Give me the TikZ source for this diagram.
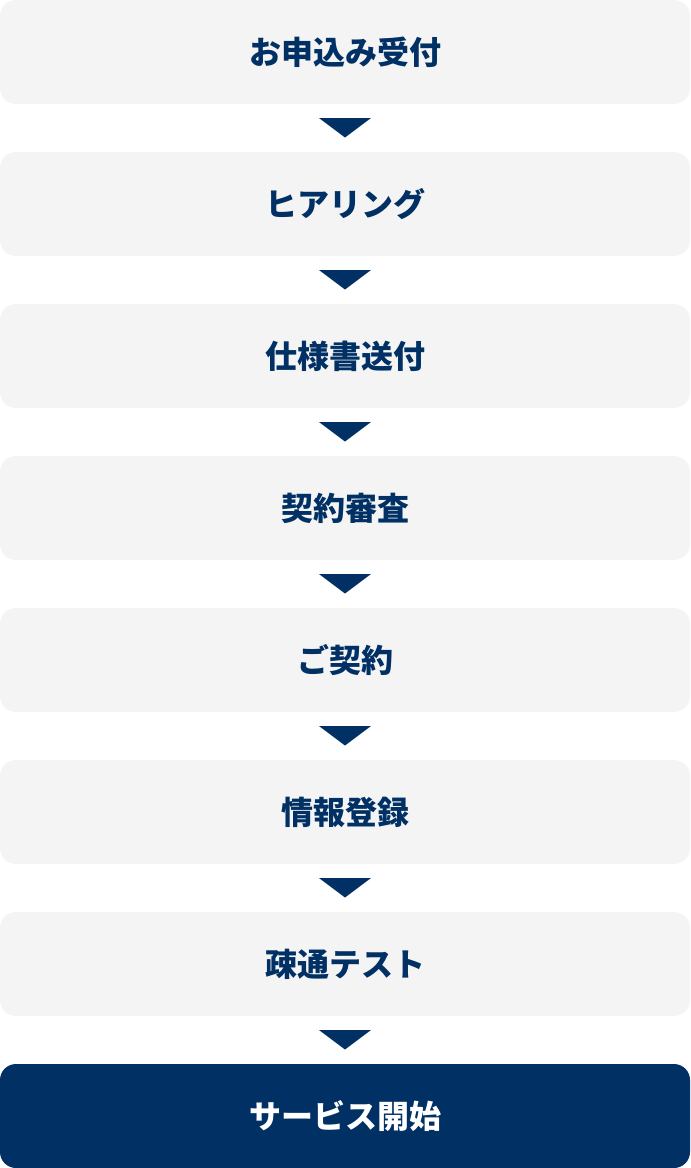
\documentclass[tikz,border=0pt]{standalone}
\usepackage{fontspec}
\setmainfont{Noto Sans CJK JP}
\usetikzlibrary{positioning,calc}
\definecolor{flownavy}{HTML}{003064}
\definecolor{flowgray}{HTML}{F4F4F4}
\begin{document}
\begin{tikzpicture}[
				x=0.75pt, y=0.75pt,
				node distance=36pt,
				stage/.style={rectangle, rounded corners=12pt, fill=flowgray, text=flownavy, minimum width=517.5pt, minimum height=78pt, inner sep=0pt, outer sep=0pt, font=\fontsize{24}{24}\selectfont\bfseries},
				laststage/.style={stage, fill=flownavy, text=white}
				]
			\useasboundingbox (0,0) rectangle (690,-1168);
			\node [stage] (s1) at (345,-52) {お申込み受付};
			\node [stage, below=of s1] (s2) {ヒアリング};
			\node [stage, below=of s2] (s3) {仕様書送付};
			\node [stage, below=of s3] (s4) {契約審査};
			\node [stage, below=of s4] (s5) {ご契約};
			\node [stage, below=of s5] (s6) {情報登録};
			\node [stage, below=of s6] (s7) {疎通テスト};
			\node [laststage, below=of s7] (s8) {サービス開始};
			\foreach \i/\j in {1/2,2/3,3/4,4/5,5/6,6/7,7/8}
				\fill [flownavy] ($(s\i.south)+(-26,-14)$) -- ($(s\i.south)+(26,-14)$) -- ($(s\j.north)+(0,14.5)$) -- cycle;
			\end{tikzpicture}
\end{document}
